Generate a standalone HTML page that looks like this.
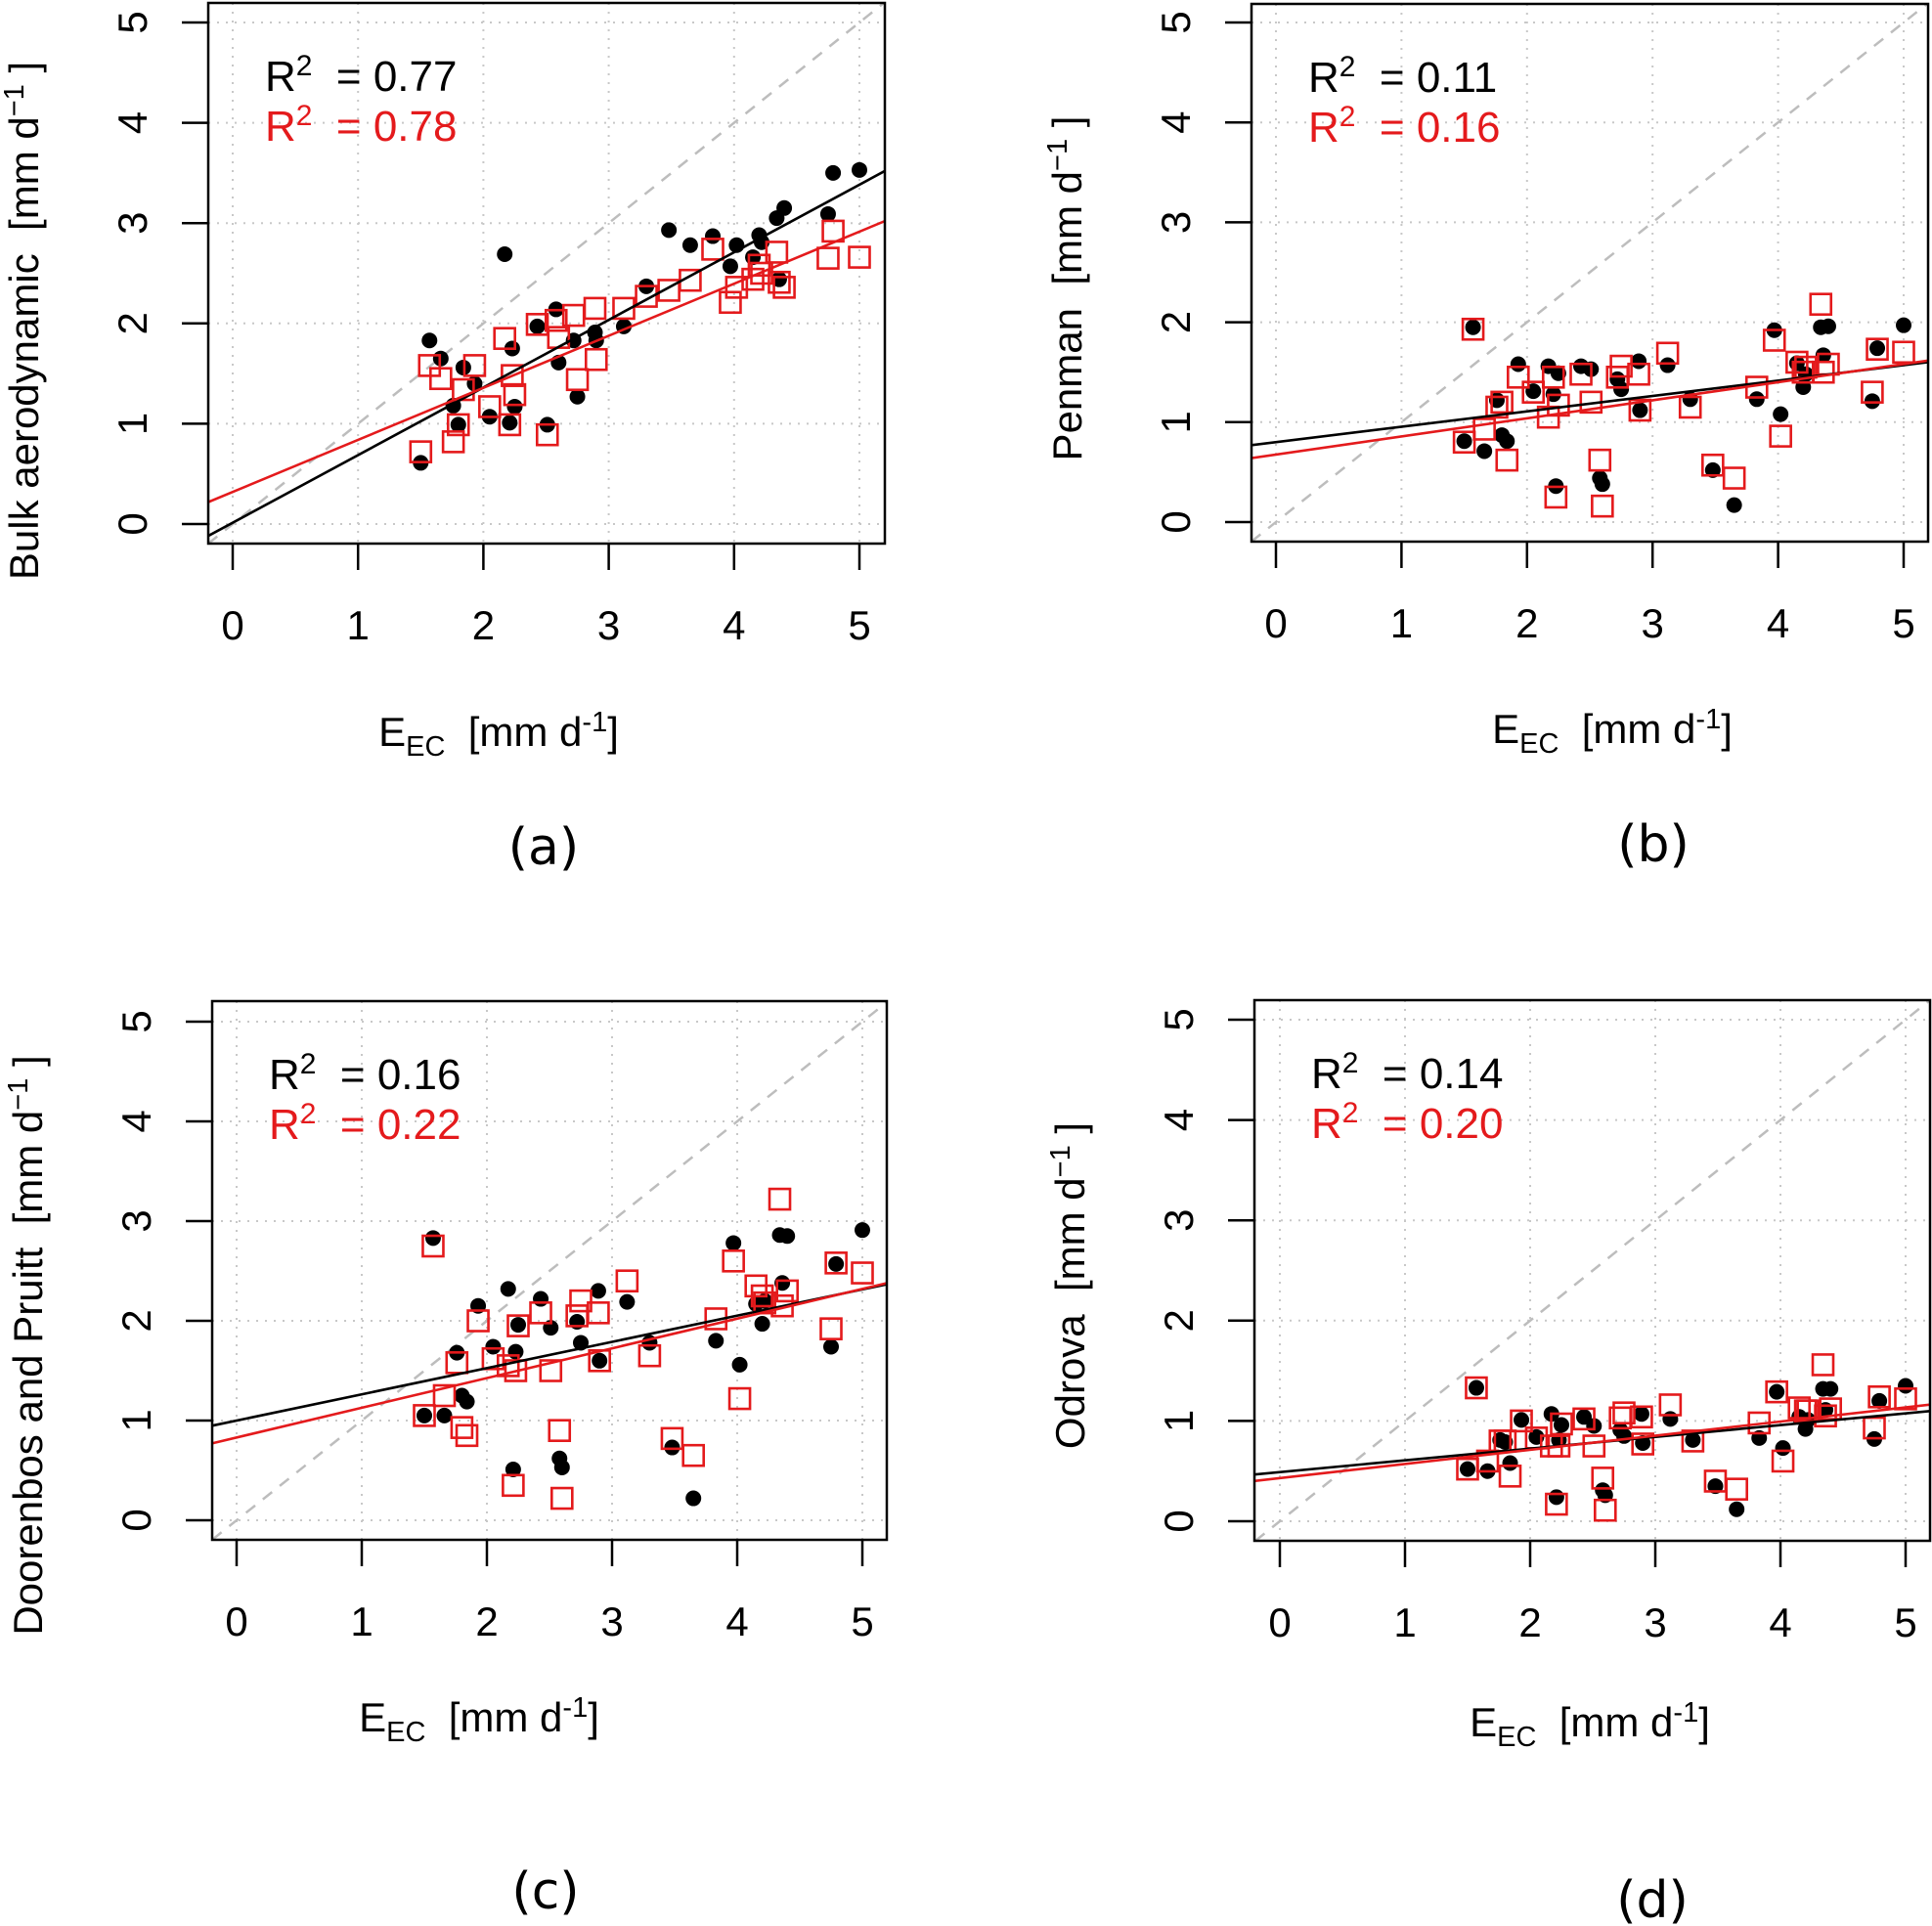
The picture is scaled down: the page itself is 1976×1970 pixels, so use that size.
<!DOCTYPE html>
<html><head><meta charset="utf-8"><style>
html,body{margin:0;padding:0;background:#fff}
svg{display:block;font-family:"Liberation Sans",sans-serif}
</style></head><body>
<svg id="fig" width="1976" height="1970" viewBox="0 0 1976 1970" xmlns="http://www.w3.org/2000/svg"></svg>
<script>
// shared x values (E_EC)
const eecValues = [1.50,1.57,1.66,1.76,1.80,1.84,1.93,2.05,2.17,2.21,2.23,2.25,2.43,2.51,2.58,2.60,2.72,2.75,2.89,2.90,3.12,3.30,3.48,3.65,3.83,3.97,4.02,4.15,4.20,4.22,4.34,4.36,4.40,4.75,4.79,5.00];
const bulkBlack = [0.61,1.83,1.65,1.18,0.99,1.56,1.40,1.07,2.69,1.01,1.75,1.17,1.97,0.99,2.14,1.61,1.83,1.27,1.91,1.83,1.97,2.37,2.93,2.78,2.87,2.57,2.78,2.66,2.88,2.81,3.05,2.44,3.15,3.09,3.50,3.53];
const bulkRed = [0.72,1.58,1.45,0.82,0.99,1.34,1.58,1.17,1.85,0.99,1.48,1.29,1.99,0.89,2.03,1.86,2.08,1.44,2.15,1.64,2.15,2.27,2.33,2.43,2.74,2.21,2.36,2.44,2.58,2.50,2.71,2.41,2.36,2.65,2.92,2.66];
const penmanBlack = [0.81,1.95,0.71,1.22,0.87,0.81,1.58,1.31,1.56,1.28,0.36,1.49,1.56,1.53,0.44,0.38,1.43,1.33,1.61,1.12,1.57,1.23,0.52,0.17,1.23,1.92,1.08,1.59,1.35,1.48,1.95,1.67,1.96,1.21,1.74,1.97];
const penmanRed = [0.80,1.93,0.93,1.15,1.20,0.62,1.45,1.30,1.05,1.45,0.25,1.17,1.48,1.20,0.62,0.16,1.45,1.56,1.48,1.12,1.69,1.15,0.57,0.44,1.35,1.82,0.86,1.60,1.50,1.55,2.18,1.50,1.58,1.30,1.73,1.70];
const dpBlack = [1.05,2.83,1.05,1.68,1.25,1.19,2.15,1.74,2.32,0.51,1.69,1.96,2.22,1.93,0.62,0.53,1.99,1.78,2.30,1.60,2.19,1.78,0.73,0.22,1.80,2.78,1.56,2.17,1.97,2.20,2.86,2.38,2.85,1.74,2.57,2.91];
const dpRed = [1.05,2.75,1.25,1.58,0.93,0.85,2.00,1.62,1.55,0.35,1.50,1.95,2.08,1.50,0.90,0.22,2.05,2.20,2.08,1.60,2.40,1.65,0.82,0.65,2.02,2.60,1.22,2.35,2.25,2.18,3.22,2.15,2.30,1.92,2.58,2.48];
const odBlack = [0.52,1.33,0.50,0.81,0.79,0.58,1.01,0.84,1.07,0.24,0.81,0.96,1.04,0.95,0.31,0.26,0.91,0.85,1.07,0.78,1.02,0.81,0.35,0.12,0.83,1.29,0.73,1.04,0.92,1.01,1.32,1.11,1.32,0.82,1.20,1.35];
const odRed = [0.52,1.33,0.60,0.80,0.80,0.45,1.00,0.83,0.75,0.17,0.75,0.97,1.02,0.75,0.43,0.11,1.03,1.08,1.04,0.77,1.16,0.80,0.40,0.32,0.98,1.29,0.60,1.13,1.10,1.10,1.56,1.05,1.12,0.93,1.24,1.22];
// fitted lines: intercept / slope  [black, red] per panel a,b,c,d
const fitIntercepts = [[0.013,0.32],[0.80,0.676],[1.0,0.83],[0.49,0.43]];
const fitSlopes = [[0.674,0.519],[0.154,0.181],[0.263,0.298],[0.117,0.141]];
const r2Black = ["0.77","0.11","0.16","0.14"];
const r2Red = ["0.78","0.16","0.22","0.20"];
const yTitles = ["Bulk aerodynamic","Penman","Doorenbos and Pruitt","Odrova"];
const panelLetters = ["(a)","(b)","(c)","(d)"];
const tickValues = [0,1,2,3,4,5];

const NS="http://www.w3.org/2000/svg";
const svg=document.getElementById('fig');
function mk(tag,attrs,parent){const e=document.createElementNS(NS,tag);for(const k in attrs)e.setAttribute(k,attrs[k]);(parent||svg).appendChild(e);return e;}

const layout=[
 {box:[213,905,3,556],x0:238,x5:879,y0:536,y5:23,yt:328,xt:510,xtY:750,lab:556,labY:866,ser:[bulkBlack,bulkRed]},
 {box:[1280,1972,4,554],x0:1305,x5:1947,y0:534,y5:23,yt:295,xt:1649,xtY:747,lab:1691,labY:863,ser:[penmanBlack,penmanRed]},
 {box:[217,907,1024,1575],x0:242,x5:882,y0:1555,y5:1045,yt:1376,xt:490,xtY:1758,lab:558,labY:1934,ser:[dpBlack,dpRed]},
 {box:[1283,1974,1023,1576],x0:1309,x5:1949,y0:1556,y5:1043,yt:1315,xt:1626,xtY:1763,lab:1690,labY:1943,ser:[odBlack,odRed]}
];
const names=['a','b','c','d'];
layout.forEach((L,p)=>{
 const g=mk('g',{});
 
 
 const sx=v=>L.x0+(L.x5-L.x0)*v/5, sy=v=>L.y0+(L.y5-L.y0)*v/5;
 const [bl,br,bt,bb]=L.box;
 const cp=mk('clipPath',{id:'cp'+p},g);mk('rect',{x:bl,y:bt,width:br-bl,height:bb-bt},cp);
 const plot=mk('g',{'clip-path':'url(#cp'+p+')'},g);
 tickValues.forEach(t=>{
  const gx=mk('line',{x1:sx(t),x2:sx(t),y1:bt,y2:bb,stroke:'#c8c8c8','stroke-width':2,'stroke-dasharray':'2 7'},plot);
  
  const gy=mk('line',{x1:bl,x2:br,y1:sy(t),y2:sy(t),stroke:'#c8c8c8','stroke-width':2,'stroke-dasharray':'2 7'},plot);
  
 });
 const one=mk('line',{x1:sx(-1),y1:sy(-1),x2:sx(6),y2:sy(6),stroke:'#bdbdbd','stroke-width':2.5,'stroke-dasharray':'12 10'},plot);
 
 L.ser[0].forEach((v,i)=>{
  const c=mk('circle',{cx:sx(eecValues[i]),cy:sy(v),r:8,fill:'#000'},plot);
  
 });
 L.ser[1].forEach((v,i)=>{
  const r=mk('rect',{x:sx(eecValues[i])-10.5,y:sy(v)-10.5,width:21,height:21,fill:'none',stroke:'#e41a1c','stroke-width':2.6},plot);
  
 });
 ['#000','#e41a1c'].forEach((col,k)=>{
  const a=fitIntercepts[p][k], b=fitSlopes[p][k];
  const l=mk('line',{x1:sx(-1),y1:sy(a-b),x2:sx(6),y2:sy(a+6*b),stroke:col,'stroke-width':2.6},plot);
  
 });
 const box=mk('rect',{x:bl,y:bt,width:br-bl,height:bb-bt,fill:'none',stroke:'#000','stroke-width':2.5},g);
 
 tickValues.forEach(t=>{
  mk('line',{x1:sx(t),x2:sx(t),y1:bb,y2:bb+27,stroke:'#000','stroke-width':2.5},g);
  const tx=mk('text',{x:sx(t),y:bb+98,'font-size':42,'text-anchor':'middle'},g);tx.textContent=t;
  
  mk('line',{x1:bl-27,x2:bl,y1:sy(t),y2:sy(t),stroke:'#000','stroke-width':2.5},g);
  const ty=mk('text',{x:0,y:0,'font-size':42,'text-anchor':'middle',transform:`translate(${bl-63},${sy(t)}) rotate(-90)`},g);ty.textContent=t;
  
 });
 const yt=mk('text',{x:0,y:0,'font-size':42,'text-anchor':'middle',transform:`translate(${bl-174},${L.yt}) rotate(-90)`},g);
 
 yt.innerHTML=yTitles[p]+'\u00a0 [mm d<tspan dy="-15" font-size="29">\u22121</tspan><tspan dy="15"> ]</tspan>';
 const xt=mk('text',{x:L.xt,y:L.xtY+13,'font-size':42,'text-anchor':'middle'},g);
 
 xt.innerHTML='E<tspan dy="10" font-size="29">EC</tspan><tspan dy="-10">\u00a0 [mm d</tspan><tspan dy="-15" font-size="29">-1</tspan><tspan dy="15">]</tspan>';
 const r1=mk('text',{x:bl+58,y:bt+90,'font-size':44},g);
 
 r1.innerHTML='R<tspan dy="-16" font-size="30">2</tspan><tspan dy="16">\u00a0 = '+r2Black[p]+'</tspan>';
 const r2=mk('text',{x:bl+58,y:bt+141,'font-size':44,fill:'#e41a1c'},g);
 
 r2.innerHTML='R<tspan dy="-16" font-size="30">2</tspan><tspan dy="16">\u00a0 = '+r2Red[p]+'</tspan>';
 const pl=mk('text',{x:L.lab,y:L.labY+18,'font-size':52,'text-anchor':'middle','font-family':'"DejaVu Sans",sans-serif'},g);
 
 pl.textContent=panelLetters[p];
});
</script>
</body></html>
